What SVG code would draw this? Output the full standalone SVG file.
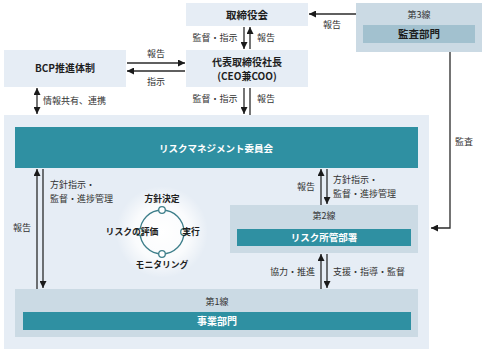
<svg xmlns="http://www.w3.org/2000/svg" width="484" height="355" viewBox="0 0 484 355">
<defs>
<marker id="ah" viewBox="0 0 10 10" refX="10" refY="5" markerWidth="7" markerHeight="7" markerUnits="userSpaceOnUse" orient="auto-start-reverse">
<path d="M0,0 L10,5 L0,10 z" fill="#1a1a1a"/>
</marker>
<radialGradient id="glow" cx="0.5" cy="0.5" r="0.5">
<stop offset="0" stop-color="#ffffff" stop-opacity="1"/>
<stop offset="0.6" stop-color="#ffffff" stop-opacity="0.8"/>
<stop offset="1" stop-color="#ffffff" stop-opacity="0"/>
</radialGradient>
<style>
.lt{fill:#e6edf5}
.mid{fill:#cbdae4}
.teal{fill:#2f90a2}
.aud{fill:#a2c1cf}
.b{font-family:"Noto Sans CJK JP","Noto Sans",sans-serif;font-weight:bold;fill:#1e1e1e;text-anchor:middle}
.w{font-family:"Noto Sans CJK JP","Noto Sans",sans-serif;font-weight:bold;fill:#ffffff;text-anchor:middle}
.s{font-family:"Noto Sans CJK JP","Noto Sans",sans-serif;fill:#333;font-size:9px}
.ln{stroke:#2a2a2a;stroke-width:1.3;fill:none}
.cy{stroke:#3e7f8b;stroke-width:1.3;fill:none}
.nd{stroke:#3e7f8b;stroke-width:1.3;fill:#ffffff}
</style>
</defs>
<rect width="484" height="355" fill="#ffffff"/>

<g id="panel"><rect class="lt" x="4" y="115" width="425" height="234"/></g>

<g id="board"><rect class="lt" x="186" y="3" width="122" height="23"/><text class="b" x="247" y="18.5" font-size="10.5">取締役会</text></g>
<g id="ceo"><rect class="lt" x="186" y="50" width="122" height="37"/><text class="b" x="247" y="66" font-size="10">代表取締役社長</text><text class="b" x="247" y="80" font-size="10">(CEO兼COO)</text></g>
<g id="bcp"><rect class="lt" x="4" y="50" width="122" height="37"/><text class="b" x="65" y="72" font-size="10">BCP推進体制</text></g>
<g id="line3"><rect class="mid" x="356" y="3" width="126" height="49"/><text class="s" x="419" y="18" text-anchor="middle">第3線</text><rect class="aud" x="363" y="25" width="112" height="18"/><text class="b" x="419" y="38" font-size="10.5">監査部門</text></g>
<g id="committee"><rect class="teal" x="15" y="127" width="403" height="41"/><text class="w" x="216" y="151.5" font-size="9.5">リスクマネジメント委員会</text></g>
<g id="line2"><rect class="mid" x="230" y="205" width="188" height="48"/><text class="s" x="324" y="219" text-anchor="middle">第2線</text><rect class="teal" x="237" y="229" width="174" height="17"/><text class="w" x="324" y="241" font-size="9.5">リスク所管部署</text></g>
<g id="line1"><rect class="mid" x="15" y="289" width="403" height="48"/><text class="s" x="217" y="305" text-anchor="middle">第1線</text><rect class="teal" x="23" y="312" width="388" height="18"/><text class="w" x="217" y="325" font-size="10">事業部門</text></g>

<g id="cycle">
<circle cx="162" cy="232" r="46" fill="url(#glow)"/>
<circle class="cy" cx="162" cy="232" r="22"/>
<circle class="nd" cx="162" cy="210" r="3.3"/>
<circle class="nd" cx="140" cy="232" r="3.3"/>
<circle class="nd" cx="184" cy="232" r="3.3"/>
<circle class="nd" cx="162" cy="254" r="3.3"/>
<text class="b" x="162" y="202" font-size="8.8">方針決定</text>
<text class="b" x="132" y="235" font-size="8.8" text-anchor="end">リスクの評価</text>
<text class="b" x="191" y="235" font-size="8.8" text-anchor="start">実行</text>
<text class="b" x="162" y="268" font-size="8.8">モニタリング</text>
</g>

<g id="connectors">
<line class="ln" x1="127" y1="63" x2="185" y2="63" marker-end="url(#ah)"/>
<line class="ln" x1="185" y1="71" x2="127" y2="71" marker-end="url(#ah)"/>
<line class="ln" x1="244" y1="27" x2="244" y2="49" marker-end="url(#ah)"/>
<line class="ln" x1="250" y1="49" x2="250" y2="27" marker-end="url(#ah)"/>
<line class="ln" x1="244" y1="88" x2="244" y2="114" marker-end="url(#ah)"/>
<line class="ln" x1="250" y1="88" x2="250" y2="115"/>
<line class="ln" x1="37" y1="88" x2="37" y2="114" marker-start="url(#ah)" marker-end="url(#ah)"/>
<line class="ln" x1="356" y1="14" x2="309" y2="14" marker-end="url(#ah)"/>
<polyline class="ln" points="450,52 450,228 431,228" marker-end="url(#ah)"/>
<line class="ln" x1="37" y1="289" x2="37" y2="169" marker-end="url(#ah)"/>
<line class="ln" x1="43" y1="169" x2="43" y2="288" marker-end="url(#ah)"/>
<line class="ln" x1="321" y1="205" x2="321" y2="169" marker-end="url(#ah)"/>
<line class="ln" x1="327" y1="169" x2="327" y2="204" marker-end="url(#ah)"/>
<line class="ln" x1="321" y1="289" x2="321" y2="254" marker-end="url(#ah)"/>
<line class="ln" x1="327" y1="254" x2="327" y2="288" marker-end="url(#ah)"/>
<text class="s" x="156" y="57" text-anchor="middle">報告</text>
<text class="s" x="156" y="85" text-anchor="middle">指示</text>
<text class="s" x="215" y="41" text-anchor="middle">監督・指示</text>
<text class="s" x="257" y="41">報告</text>
<text class="s" x="215" y="102" text-anchor="middle">監督・指示</text>
<text class="s" x="257" y="102">報告</text>
<text class="s" x="43" y="104">情報共有、連携</text>
<text class="s" x="332" y="28" text-anchor="middle">報告</text>
<text class="s" x="455" y="145">監査</text>
<text class="s" x="13" y="231">報告</text>
<text class="s" x="50" y="188">方針指示・</text>
<text class="s" x="50" y="202">監督・進捗管理</text>
<text class="s" x="315" y="190" text-anchor="end">報告</text>
<text class="s" x="333" y="183">方針指示・</text>
<text class="s" x="333" y="197">監督・進捗管理</text>
<text class="s" x="315" y="275" text-anchor="end">協力・推進</text>
<text class="s" x="333" y="275">支援・指導・監督</text>
</g>
</svg>
